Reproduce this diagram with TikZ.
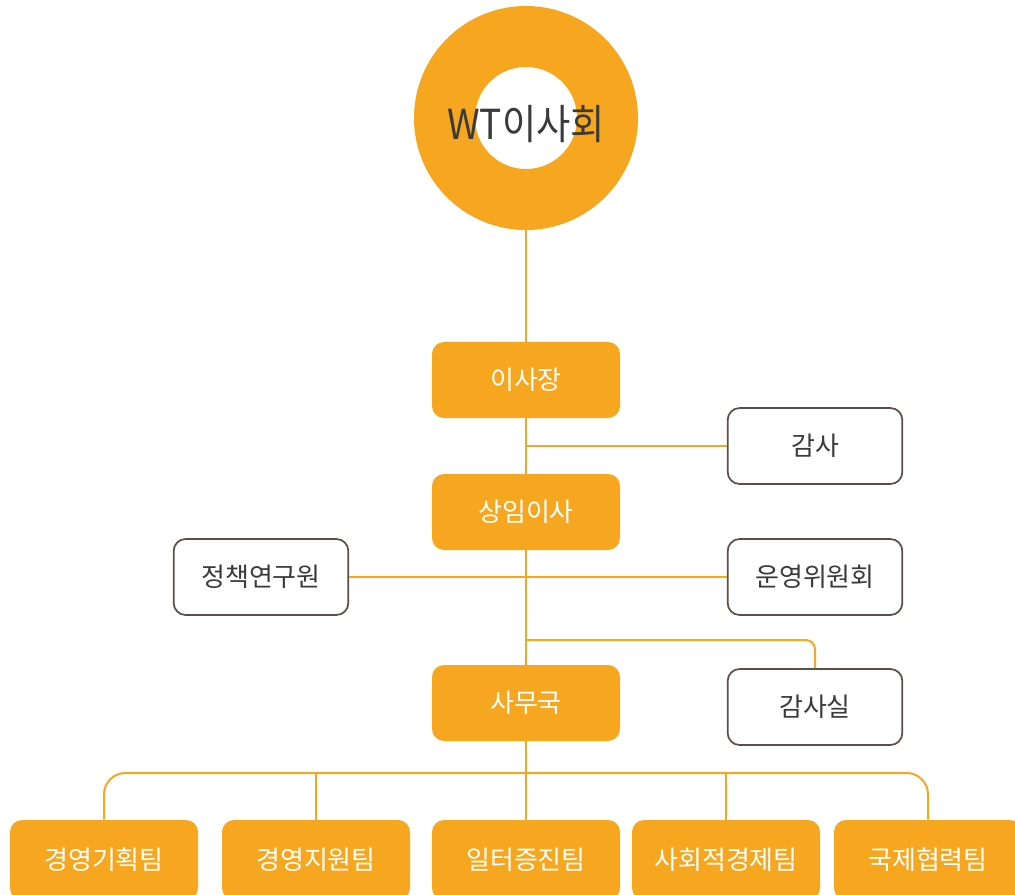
\documentclass[tikz,border=0pt]{standalone}
\usepackage{fontspec}
\setmainfont{Noto Sans CJK KR}
\usetikzlibrary{positioning}
\definecolor{wtorange}{HTML}{F7A71F}
\definecolor{wtgrey}{HTML}{5A5048}
\definecolor{wttext}{HTML}{3A3A3A}

\tikzset{
  orangebox/.style={fill=wtorange, rounded corners=9pt, minimum width=141pt, minimum height=57pt, inner sep=0pt, text=white, font=\fontsize{19.5pt}{21pt}\selectfont},
  whitebox/.style={draw=wtgrey, line width=1.3pt, fill=white, rounded corners=9pt, minimum width=131pt, minimum height=57pt, inner sep=0pt, text=wttext, font=\fontsize{19.5pt}{21pt}\selectfont},
  teambox/.style={orangebox, minimum height=60pt},
  link/.style={draw=wtorange, line width=1.5pt}
}

\begin{document}
\begin{tikzpicture}[x=0.75pt, y=-0.75pt]
		%%%%% FRAME %%%%%
		\useasboundingbox (0,0) rectangle (1015,895);
		\clip (0,0) rectangle (1015,895);
		
		%%%%% BOARD %%%%%
		\node[circle, draw=wtorange, line width=45.75pt, minimum size=122.25pt, inner sep=0pt] (board) at (526,118) {};
		\node[text=wttext, font=\fontsize{31pt}{33pt}\selectfont] (boardname) at ([yshift=-4.5pt]board.center) {\scalebox{0.9}[1]{WT이사회}};
		
		%%%%% NODES %%%%%
		\node[orangebox] (chair) at (526,380) {이사장};
		\node[whitebox] (auditor) at (815,446) {감사};
		\node[orangebox] (standing) at (526,512) {상임이사};
		\node[whitebox] (policy) at (261,577) {정책연구원};
		\node[whitebox] (steering) at (815,577) {운영위원회};
		\node[orangebox] (office) at (526,703) {사무국};
		\node[whitebox] (auditoffice) at (815,707) {감사실};
		
		\node[teambox] (planning) at (104,860) {경영기획팀};
		\node[teambox] (support) at (316,860) {경영지원팀};
		\node[teambox] (worklife) at (526,860) {일터증진팀};
		\node[teambox] (social) at (726,860) {사회적경제팀};
		\node[teambox] (global) at (928,860) {국제협력팀};
		
		\coordinate (tap) at (526,640);
		\coordinate (bus) at (526,773);
		
		%%%%% LINKS %%%%%
		\draw[link] (board.south) -- (chair.north);
		\draw[link] (chair.south) -- (standing.north);
		\draw[link] (auditor.west) -- (auditor.west -| chair.south);
		\draw[link] (standing.south) -- (office.north);
		\draw[link] (policy.east) -- (steering.west);
		\draw[link, rounded corners=7pt] (tap) -| (auditoffice.north);
		\draw[link] (office.south) -- (worklife.north);
		\draw[link, rounded corners=16pt] (planning.north) |- (bus) -| (global.north);
		\draw[link] (support.north) -- (support.north |- bus);
		\draw[link] (social.north) -- (social.north |- bus);
		
	\end{tikzpicture}
\end{document}
